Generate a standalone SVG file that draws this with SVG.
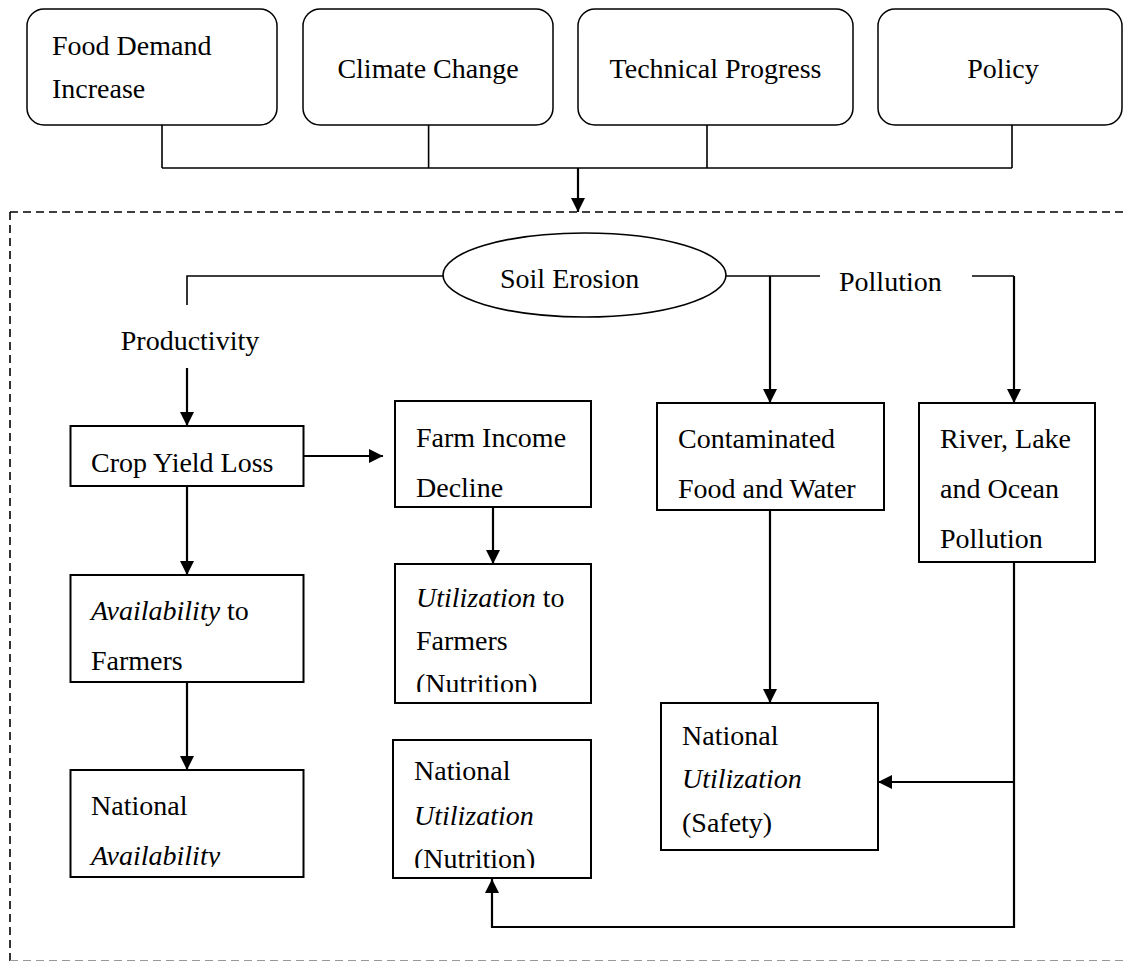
<svg xmlns="http://www.w3.org/2000/svg" width="1123" height="962" viewBox="0 0 1123 962">
<style>
text{font-family:"Liberation Serif","Times New Roman",serif;font-size:28px;fill:#000}
.it{font-style:italic}
.rbox{fill:#fff;stroke:#000;stroke-width:1.5}
.box{fill:#fff;stroke:#000;stroke-width:2}
.ln{fill:none;stroke:#000;stroke-width:1.6}
.ar{fill:none;stroke:#000;stroke-width:2.2;marker-end:url(#ah)}
.dash{fill:none;stroke:#000;stroke-width:1.6;stroke-dasharray:8 5}
</style>
<defs>
<marker id="ah" viewBox="0 0 10 10" refX="10" refY="5" markerUnits="userSpaceOnUse" markerWidth="14" markerHeight="14" orient="auto">
<path d="M0,0 L10,5 L0,10 z" fill="#000"/>
</marker>
<clipPath id="c1"><rect x="395" y="564" width="196" height="128"/></clipPath>
<clipPath id="c2"><rect x="393" y="740" width="198" height="128"/></clipPath>
<clipPath id="c3"><rect x="70" y="770" width="234" height="97"/></clipPath>
</defs>
<rect width="1123" height="962" fill="#fff"/>
<g id="frame">
<path class="dash" d="M10,212 H1130"/>
<path class="dash" d="M10,212 V961"/>
<path d="M10,960.5 H1123" fill="none" stroke="#999" stroke-width="1" stroke-dasharray="8 5"/>
</g>
<g id="connectors">
<path class="ln" d="M162,125 V168 M428.6,125 V168 M707,125 V168 M1012,125 V168 M162,168 H1012"/>
<path class="ar" d="M578,168 V212"/>
<path class="ln" d="M443,276 H187 V305"/>
<path class="ar" d="M187,368 V426"/>
<path class="ar" d="M304,456 H383"/>
<path class="ar" d="M187,486 V575"/>
<path class="ar" d="M187,682 V770"/>
<path class="ar" d="M493,507 V564"/>
<path class="ln" d="M726,276 H820"/>
<path class="ar" d="M770,276 V403"/>
<path class="ln" d="M972,276 H1014"/>
<path class="ar" d="M1014,276 V403"/>
<path class="ar" d="M770,510 V703"/>
<path class="ar" d="M1014,562 V927 H492 V879"/>
<path class="ar" d="M1014,782 H878"/>
</g>
<g id="food-demand">
<rect class="rbox" x="27" y="9" width="250" height="116" rx="17"/>
<text x="52" y="55">Food Demand</text>
<text x="52" y="98">Increase</text>
</g>
<g id="climate-change">
<rect class="rbox" x="303" y="9" width="250" height="116" rx="17"/>
<text x="428" y="78" text-anchor="middle">Climate Change</text>
</g>
<g id="technical-progress">
<rect class="rbox" x="578" y="9" width="275" height="116" rx="17"/>
<text x="715.5" y="78" text-anchor="middle">Technical Progress</text>
</g>
<g id="policy">
<rect class="rbox" x="878" y="9" width="244" height="116" rx="17"/>
<text x="1003" y="78" text-anchor="middle">Policy</text>
</g>
<g id="soil-erosion">
<ellipse cx="584.5" cy="275" rx="141.5" ry="42" fill="#fff" stroke="#000" stroke-width="1.6"/>
<text x="500" y="288">Soil Erosion</text>
</g>
<g id="productivity-label">
<text x="190" y="350" text-anchor="middle">Productivity</text>
</g>
<g id="pollution-label">
<text x="839" y="291">Pollution</text>
</g>
<g id="crop-yield-loss">
<rect class="box" x="70.5" y="426" width="233" height="60"/>
<text x="91" y="472">Crop Yield Loss</text>
</g>
<g id="availability-farmers">
<rect class="box" x="70.5" y="575" width="233" height="107"/>
<text x="91" y="620"><tspan class="it">Availability</tspan> to</text>
<text x="91" y="670">Farmers</text>
</g>
<g id="national-availability">
<rect class="box" x="70.5" y="770" width="233" height="107"/>
<g clip-path="url(#c3)">
<text x="91" y="815">National</text>
<text x="91" y="865" class="it">Availability</text>
</g>
</g>
<g id="farm-income">
<rect class="box" x="395" y="401" width="196" height="106"/>
<text x="416" y="447">Farm Income</text>
<text x="416" y="497">Decline</text>
</g>
<g id="utilization-farmers">
<rect class="box" x="395" y="564" width="196" height="139"/>
<g clip-path="url(#c1)">
<text x="416" y="607"><tspan class="it">Utilization</tspan> to</text>
<text x="416" y="650">Farmers</text>
<text x="416" y="693">(Nutrition)</text>
</g>
</g>
<g id="national-utilization-nutrition">
<rect class="box" x="393" y="740" width="198" height="138"/>
<g clip-path="url(#c2)">
<text x="414" y="780">National</text>
<text x="414" y="825" class="it">Utilization</text>
<text x="414" y="868">(Nutrition)</text>
</g>
</g>
<g id="contaminated">
<rect class="box" x="657" y="403" width="227" height="107"/>
<text x="678" y="448">Contaminated</text>
<text x="678" y="498">Food and Water</text>
</g>
<g id="river-pollution">
<rect class="box" x="919" y="403" width="176" height="159"/>
<text x="940" y="448">River, Lake</text>
<text x="940" y="498">and Ocean</text>
<text x="940" y="548">Pollution</text>
</g>
<g id="national-utilization-safety">
<rect class="box" x="661" y="703" width="217" height="147"/>
<text x="682" y="745">National</text>
<text x="682" y="788" class="it">Utilization</text>
<text x="682" y="832">(Safety)</text>
</g>
</svg>
